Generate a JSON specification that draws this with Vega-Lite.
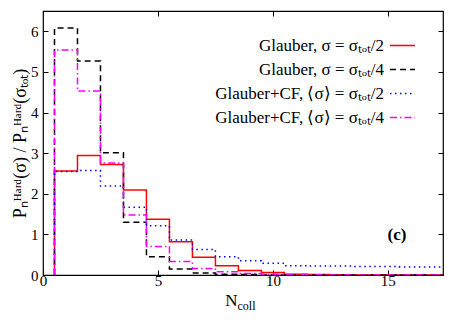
{
  "$schema": "https://vega.github.io/schema/vega-lite/v6.json",
  "width": 400,
  "height": 264,
  "autosize": {"type": "none"},
  "padding": {"left": 43, "top": 11, "right": 20, "bottom": 45},
  "background": "white",
  "config": {
    "font": "Liberation Serif",
    "view": {"stroke": "#000", "strokeWidth": 1.2},
    "axis": {
      "domain": false, "grid": false,
      "tickColor": "#000", "tickSize": -5, "tickWidth": 1,
      "labelColor": "#000", "titleColor": "#000",
      "labelFont": "Liberation Serif", "titleFont": "Liberation Serif",
      "labelFontSize": 15, "titleFontWeight": "normal"
    },
    "legend": {
      "labelFont": "Liberation Serif", "labelFontSize": 17, "labelColor": "#000",
      "labelLimit": 400
    }
  },
  "datasets": {
    "hist": [
      {"s": "a", "e": 0.5, "v": 0}, {"s": "a", "e": 1.5, "v": 2.56}, {"s": "a", "e": 2.5, "v": 2.94}, {"s": "a", "e": 3.5, "v": 2.72}, {"s": "a", "e": 4.5, "v": 2.09}, {"s": "a", "e": 5.5, "v": 1.37}, {"s": "a", "e": 6.5, "v": 0.82}, {"s": "a", "e": 7.5, "v": 0.44}, {"s": "a", "e": 8.5, "v": 0.23}, {"s": "a", "e": 9.5, "v": 0.11}, {"s": "a", "e": 10.5, "v": 0.06}, {"s": "a", "e": 11.5, "v": 0.02}, {"s": "a", "e": 12.5, "v": 0.01}, {"s": "a", "e": 13.5, "v": 0.005}, {"s": "a", "e": 14.5, "v": 0.003}, {"s": "a", "e": 15.5, "v": 0.002}, {"s": "a", "e": 16.5, "v": 0.001}, {"s": "a", "e": 17.5, "v": 0.001},
      {"s": "b", "e": 0.5, "v": 0}, {"s": "b", "e": 1.5, "v": 6.08}, {"s": "b", "e": 2.5, "v": 5.27}, {"s": "b", "e": 3.5, "v": 3.01}, {"s": "b", "e": 4.5, "v": 1.30}, {"s": "b", "e": 5.5, "v": 0.45}, {"s": "b", "e": 6.5, "v": 0.15}, {"s": "b", "e": 7.5, "v": 0.05}, {"s": "b", "e": 8.5, "v": 0.02}, {"s": "b", "e": 9.5, "v": 0.01}, {"s": "b", "e": 10.5, "v": 0.004}, {"s": "b", "e": 11.5, "v": 0.002}, {"s": "b", "e": 12.5, "v": 0.001}, {"s": "b", "e": 13.5, "v": 0}, {"s": "b", "e": 14.5, "v": 0}, {"s": "b", "e": 15.5, "v": 0}, {"s": "b", "e": 16.5, "v": 0}, {"s": "b", "e": 17.5, "v": 0},
      {"s": "c", "e": 0.5, "v": 0}, {"s": "c", "e": 1.5, "v": 2.55}, {"s": "c", "e": 2.5, "v": 2.57}, {"s": "c", "e": 3.5, "v": 2.19}, {"s": "c", "e": 4.5, "v": 1.67}, {"s": "c", "e": 5.5, "v": 1.21}, {"s": "c", "e": 6.5, "v": 0.86}, {"s": "c", "e": 7.5, "v": 0.63}, {"s": "c", "e": 8.5, "v": 0.45}, {"s": "c", "e": 9.5, "v": 0.35}, {"s": "c", "e": 10.5, "v": 0.29}, {"s": "c", "e": 11.5, "v": 0.23}, {"s": "c", "e": 12.5, "v": 0.22}, {"s": "c", "e": 13.5, "v": 0.22}, {"s": "c", "e": 14.5, "v": 0.21}, {"s": "c", "e": 15.5, "v": 0.21}, {"s": "c", "e": 16.5, "v": 0.2}, {"s": "c", "e": 17.5, "v": 0.2},
      {"s": "d", "e": 0.5, "v": 0}, {"s": "d", "e": 1.5, "v": 5.54}, {"s": "d", "e": 2.5, "v": 4.53}, {"s": "d", "e": 3.5, "v": 2.76}, {"s": "d", "e": 4.5, "v": 1.48}, {"s": "d", "e": 5.5, "v": 0.70}, {"s": "d", "e": 6.5, "v": 0.33}, {"s": "d", "e": 7.5, "v": 0.16}, {"s": "d", "e": 8.5, "v": 0.08}, {"s": "d", "e": 9.5, "v": 0.04}, {"s": "d", "e": 10.5, "v": 0.02}, {"s": "d", "e": 11.5, "v": 0.01}, {"s": "d", "e": 12.5, "v": 0.005}, {"s": "d", "e": 13.5, "v": 0.002}, {"s": "d", "e": 14.5, "v": 0.001}, {"s": "d", "e": 15.5, "v": 0}, {"s": "d", "e": 16.5, "v": 0}, {"s": "d", "e": 17.5, "v": 0}
    ],
    "ann": [{"x": 15.4, "y": 0.98, "t": "(c)"}]
  },
  "resolve": {"axis": {"x": "independent", "y": "independent"}},
  "layer": [
    {
      "data": {"name": "hist"},
      "mark": {"type": "line", "interpolate": "step-before", "strokeWidth": 1.5, "clip": true},
      "encoding": {
        "x": {"field": "e", "type": "quantitative",
          "scale": {"domain": [0, 17.4], "nice": false, "zero": false},
          "axis": {"orient": "bottom", "values": [0, 5, 10, 15], "labelPadding": 3, "labelFlush": false,
            "title": "N", "titleFontSize": 17, "titleX": 188, "titleY": 30, "titleBaseline": "alphabetic", "titleAlign": "center"}},
        "y": {"field": "v", "type": "quantitative",
          "scale": {"domain": [0, 6.5], "nice": false},
          "axis": {"orient": "left", "values": [0, 1, 2, 3, 4, 5, 6], "labelPadding": 10,
            "title": "Pₙᴴᵃʳᵈ(σ) / Pₙᴴᵃʳᵈ(σₜₒₜ)", "titleFontSize": 18, "titleAngle": -90,
            "titleX": -18, "titleY": 132, "titleAlign": "center", "titleBaseline": "alphabetic"}},
        "color": {"field": "s", "type": "nominal",
          "scale": {"domain": ["a", "b", "c", "d"], "range": ["#ff0000", "#000000", "#0000ff", "#ff00ff"]},
          "legend": {"title": null, "orient": "none", "legendX": 346, "legendY": 21,
            "symbolType": "stroke", "symbolSize": 625, "symbolStrokeWidth": 1.5,
            "labelAlign": "right", "labelOffset": -32, "rowPadding": 2,
            "labelExpr": "datum.value == 'a' ? 'Glauber, σ = σₜₒₜ/2' : datum.value == 'b' ? 'Glauber, σ = σₜₒₜ/4' : datum.value == 'c' ? 'Glauber+CF, ⟨σ⟩ = σₜₒₜ/2' : 'Glauber+CF, ⟨σ⟩ = σₜₒₜ/4'"}},
        "strokeDash": {"field": "s", "type": "nominal",
          "scale": {"domain": ["a", "b", "c", "d"], "range": [[1, 0], [6, 4], [1.5, 3.5], [7, 3, 1.5, 3]]},
          "legend": {"title": null, "orient": "none", "legendX": 346, "legendY": 21,
            "symbolType": "stroke", "symbolSize": 625, "symbolStrokeWidth": 1.5,
            "labelAlign": "right", "labelOffset": -32, "rowPadding": 2,
            "labelExpr": "datum.value == 'a' ? 'Glauber, σ = σₜₒₜ/2' : datum.value == 'b' ? 'Glauber, σ = σₜₒₜ/4' : datum.value == 'c' ? 'Glauber+CF, ⟨σ⟩ = σₜₒₜ/2' : 'Glauber+CF, ⟨σ⟩ = σₜₒₜ/4'"}}
      }
    },
    {
      "data": {"name": "hist"},
      "mark": {"type": "point", "opacity": 0},
      "encoding": {
        "x": {"field": "e", "type": "quantitative",
          "scale": {"domain": [0, 17.4], "nice": false, "zero": false},
          "axis": {"orient": "top", "values": [0, 5, 10, 15], "labels": false, "title": null}},
        "y": {"field": "v", "type": "quantitative",
          "scale": {"domain": [0, 6.5], "nice": false},
          "axis": {"orient": "right", "values": [0, 1, 2, 3, 4, 5, 6], "labels": false, "title": null}}
      }
    },
    {
      "data": {"name": "hist"},
      "mark": {"type": "point", "opacity": 0},
      "encoding": {
        "x": {"field": "e", "type": "quantitative",
          "scale": {"domain": [0, 17.4], "nice": false, "zero": false},
          "axis": {"orient": "bottom", "labels": false, "ticks": false,
            "title": "coll", "titleFontSize": 12, "titleX": 203, "titleY": 34.5, "titleBaseline": "alphabetic", "titleAlign": "center"}},
        "y": {"field": "v", "type": "quantitative",
          "scale": {"domain": [0, 6.5], "nice": false}, "axis": null}
      }
    },
    {
      "data": {"name": "ann"},
      "mark": {"type": "text", "font": "Liberation Serif", "fontSize": 17, "fontWeight": "bold", "color": "#000"},
      "encoding": {
        "x": {"field": "x", "type": "quantitative", "scale": {"domain": [0, 17.4], "nice": false, "zero": false}, "axis": null},
        "y": {"field": "y", "type": "quantitative", "scale": {"domain": [0, 6.5], "nice": false}, "axis": null},
        "text": {"field": "t"}
      }
    }
  ]
}
